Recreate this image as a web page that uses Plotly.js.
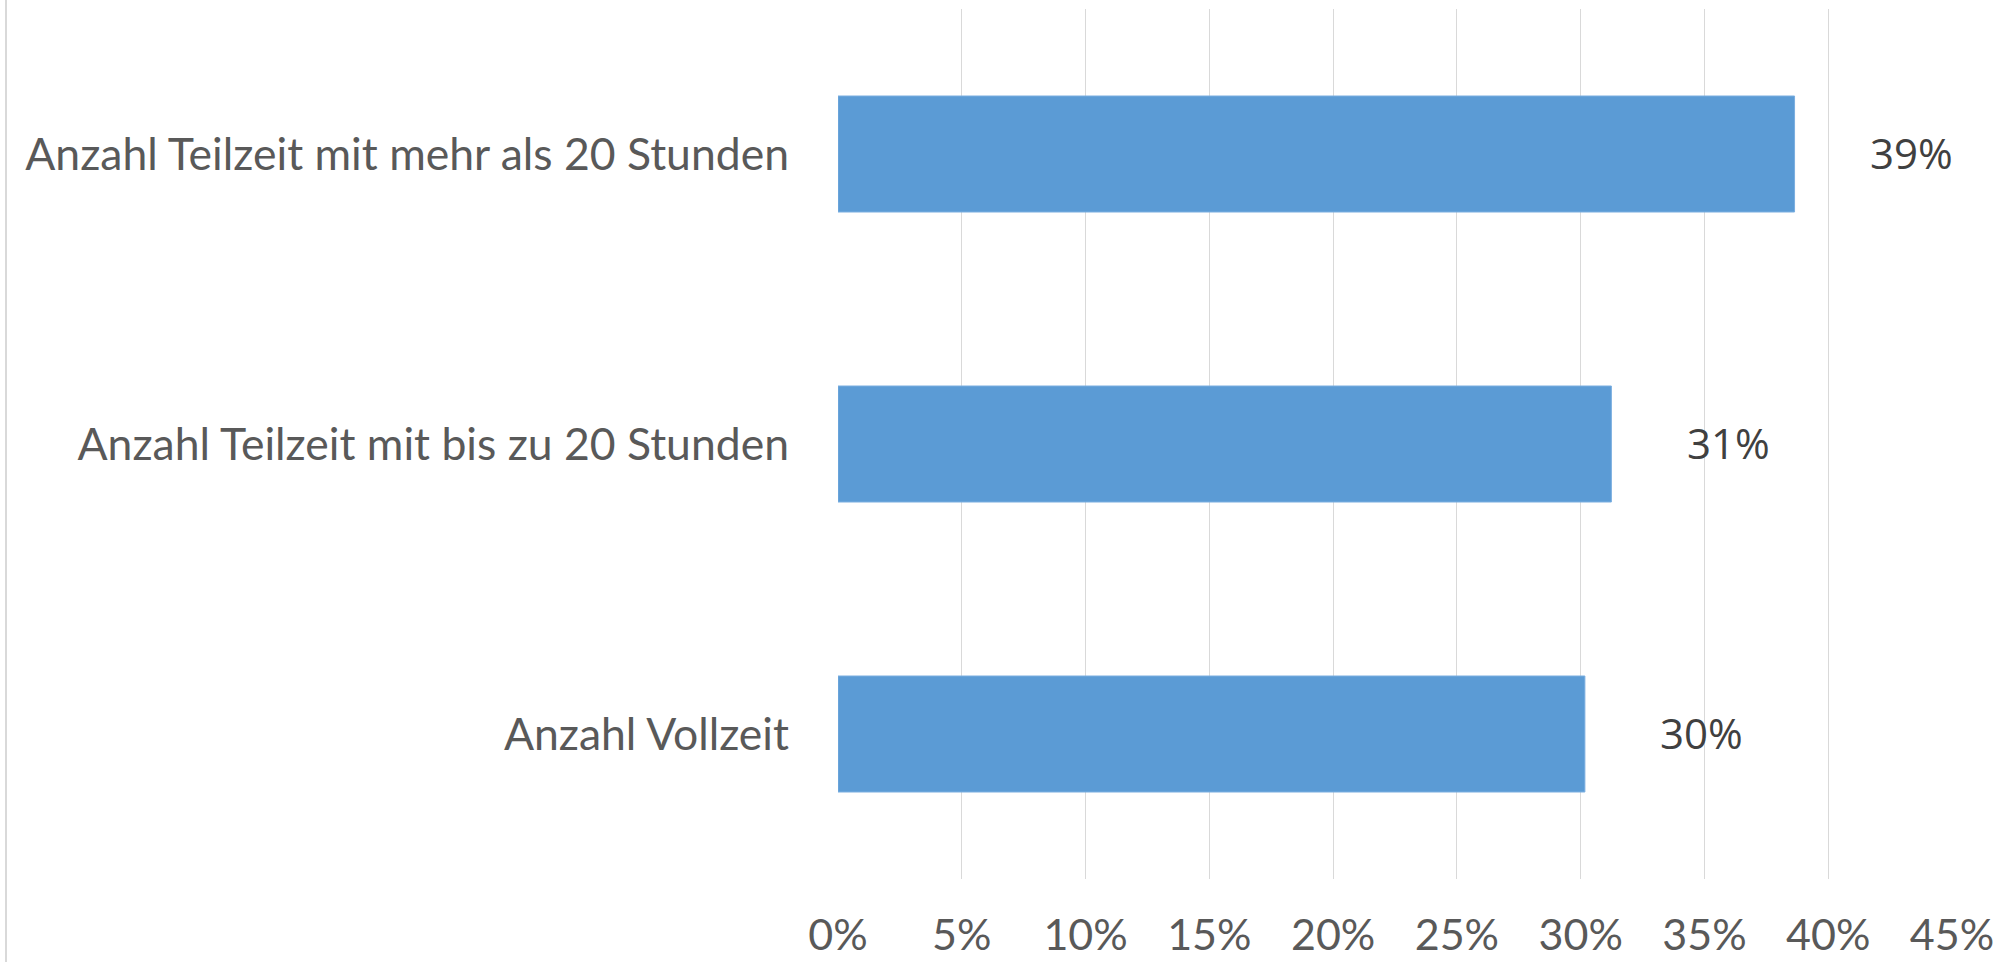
<!DOCTYPE html>
<html>
<head>
<meta charset="utf-8">
<script src="https://cdn.plot.ly/plotly-3.0.1.min.js"></script>
<style>
  html, body { margin: 0; padding: 0; background: #ffffff; }
  #chart { width: 2011px; height: 962px; }
</style>
</head>
<body>
<div id="chart"></div>
<script>
// Data (bottom to top)
const categories = [
  "Anzahl Vollzeit",
  "Anzahl Teilzeit mit bis zu 20 Stunden",
  "Anzahl Teilzeit mit mehr als 20 Stunden"
];
const values = [30.17, 31.24, 38.64];
const labels = ["30%", "31%", "39%"];
const tickValues = [0, 5, 10, 15, 20, 25, 30, 35, 40, 45];

const W = 2011, H = 962;
const margin = { l: 838, r: 59, t: 9, b: 83, pad: 0 };
const plotW = W - margin.l - margin.r;
const plotH = H - margin.t - margin.b;

const trace = {
  type: "bar",
  orientation: "h",
  x: values,
  y: categories,
  marker: { color: "#5b9bd5", line: { color: "#7aaee0", width: 1 } },
  hoverinfo: "skip"
};

const annotations = values.map((v, i) => ({
  x: v,
  y: categories[i],
  xref: "x",
  yref: "y",
  text: labels[i],
  showarrow: false,
  xanchor: "center",
  yanchor: "middle",
  xshift: 117,
  yshift: 2,
  font: { family: "Open Sans", size: 42, color: "#404040" }
}));

const layout = {
  width: W,
  height: H,
  margin: margin,
  paper_bgcolor: "#ffffff",
  plot_bgcolor: "#ffffff",
  showlegend: false,
  bargap: 0.6,
  xaxis: {
    range: [0, 45],
    tickvals: tickValues,
    ticktext: tickValues.map(v => v + "%"),
    showgrid: true,
    gridcolor: "#d9d9d9",
    gridwidth: 1,
    zeroline: false,
    showline: false,
    ticks: "",
    ticklabelstandoff: 27,
    tickfont: { family: "Lato", size: 43, color: "#595959" },
    fixedrange: true
  },
  yaxis: {
    type: "category",
    categoryorder: "array",
    categoryarray: categories,
    range: [-0.5, 2.5],
    showgrid: false,
    zeroline: false,
    showline: false,
    ticks: "",
    ticklabelstandoff: 48,
    tickfont: { family: "Lato", size: 44.5, color: "#595959" },
    fixedrange: true
  },
  annotations: annotations,
  shapes: [{
    type: "line",
    xref: "paper",
    yref: "paper",
    x0: (6 - margin.l) / plotW,
    x1: (6 - margin.l) / plotW,
    y0: -margin.b / plotH,
    y1: 1 + margin.t / plotH,
    line: { color: "#d9d9d9", width: 2 }
  }]
};

Plotly.newPlot("chart", [trace], layout, { displayModeBar: false, staticPlot: true });
</script>
</body>
</html>
